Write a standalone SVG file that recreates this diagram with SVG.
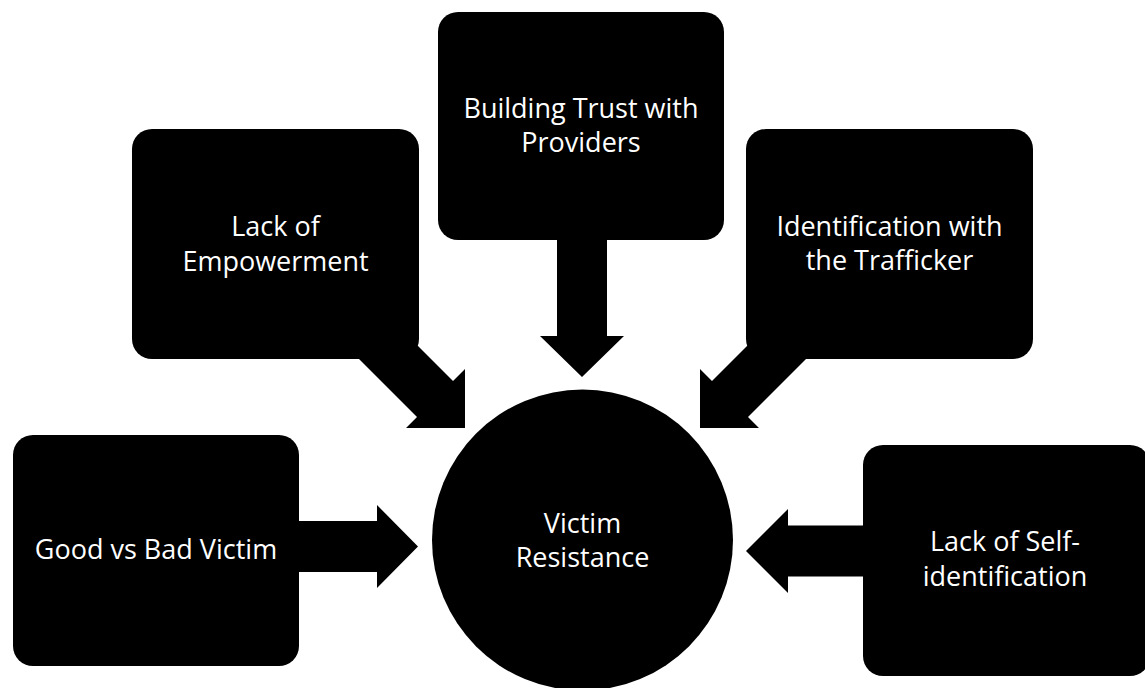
<svg xmlns="http://www.w3.org/2000/svg" width="1145" height="688" viewBox="0 0 1145 688">
<style>
.box{fill:#000}
.arr{fill:#000}
.t{font-family:"Open Sans","Liberation Sans",sans-serif;font-size:27px;fill:#fff;text-anchor:middle}
</style>
<rect width="1145" height="688" fill="#fff"/>
<g id="connectors">
<polygon class="arr" points="250,521 377,521 377,505 418,546.5 377,588 377,572 250,572"/>
<polygon class="arr" points="900,525.5 788,525.5 788,509 746,551 788,593 788,576.5 900,576.5"/>
<polygon class="arr" points="557,200 607,200 607,336 624,336 582,377 540,336 557,336"/>
<polygon class="arr" points="373,301 453,381 465,369 465,428 406,428 417,417 337,337"/>
<polygon class="arr" points="792,301 712,381 700,369 700,428 759,428 748,417 828,337"/>
</g>
<g id="node-good-bad">
<rect class="box" x="13" y="435" width="286" height="231" rx="20"/>
<text class="t" x="156" y="559">Good vs Bad Victim</text>
</g>
<g id="node-empowerment">
<rect class="box" x="132" y="129" width="287" height="230" rx="20"/>
<text class="t" x="275.5" y="236">Lack of</text>
<text class="t" x="275.5" y="271">Empowerment</text>
</g>
<g id="node-trust">
<rect class="box" x="438" y="12" width="286" height="228" rx="20"/>
<text class="t" x="581" y="118">Building Trust with</text>
<text class="t" x="581" y="152">Providers</text>
</g>
<g id="node-identification">
<rect class="box" x="746" y="129" width="287" height="230" rx="20"/>
<text class="t" x="889.5" y="236">Identification with</text>
<text class="t" x="889.5" y="270">the Trafficker</text>
</g>
<g id="node-self-id">
<rect class="box" x="863" y="445" width="287" height="231" rx="20"/>
<text class="t" x="1005" y="551">Lack of Self-</text>
<text class="t" x="1005" y="586">identification</text>
</g>
<g id="node-victim-resistance">
<circle class="box" cx="582.5" cy="540" r="150.5"/>
<text class="t" x="582.5" y="533">Victim</text>
<text class="t" x="582.5" y="567">Resistance</text>
</g>
</svg>
